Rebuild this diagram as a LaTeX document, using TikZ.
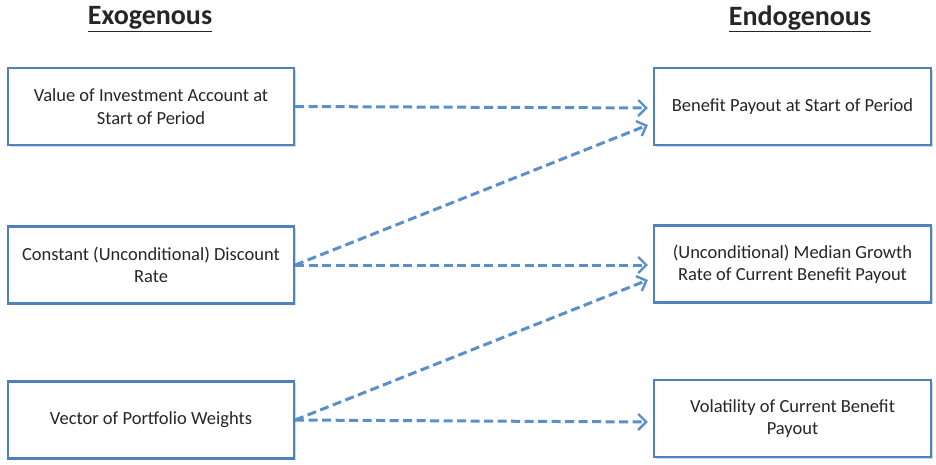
\documentclass[tikz,border=0pt]{standalone}
\usepackage{fontspec}
\setmainfont{Carlito}
\usetikzlibrary{arrows.meta,shadows}
\definecolor{boxblue}{HTML}{4F81BD}
\definecolor{linkblue}{HTML}{5B8FC9}
\begin{document}
\begin{tikzpicture}[x=1pt,y=-1pt,
  varbox/.style={draw=boxblue,line width=2.2pt,fill=white,minimum width=286pt,minimum height=77pt,
    align=center,font=\fontsize{18.5}{22.5}\selectfont,text=black!85,
    drop shadow={shadow xshift=1.5pt,shadow yshift=-1.5pt,opacity=0.25,fill=black!60}},
  headline/.style={font=\fontsize{28}{32}\selectfont\bfseries,text=black!85},
  link/.style={draw=linkblue,line width=3pt,dash pattern=on 9pt off 4.5pt,
    -{Straight Barb[length=8pt,width=16pt,line width=2.4pt]}}]
\useasboundingbox (0,0) rectangle (936,464);

\node[headline] (exo) at (150,19) {\underline{Exogenous}};
\node[headline] (endo) at (800,19) {\underline{Endogenous}};

\node[varbox] (a1) at (151,106.5) {Value of Investment Account at\\Start of Period};
\node[varbox] (a2) at (151,265) {Constant (Unconditional) Discount\\Rate};
\node[varbox] (a3) at (151,420) {Vector of Portfolio Weights};

\node[varbox,minimum width=277pt] (b1) at (792.5,106.5) {Benefit Payout at Start of Period};
\node[varbox,minimum width=277pt] (b2) at (792.5,264) {(Unconditional) Median Growth\\Rate of Current Benefit Payout};
\node[varbox,minimum width=277pt] (b3) at (792.5,418.5) {Volatility of Current Benefit\\Payout};

% arrow targets on the left edges of the endogenous boxes
\coordinate (t1a) at ([xshift=-5pt,yshift=-1.5pt]b1.west);
\coordinate (t1b) at ([xshift=-5pt,yshift=-18.5pt]b1.west);
\coordinate (t2a) at ([xshift=-5pt,yshift=-1pt]b2.west);
\coordinate (t2b) at ([xshift=-5pt,yshift=-16pt]b2.west);
\coordinate (t3a) at ([xshift=-5pt,yshift=-3.5pt]b3.west);

\draw[link] (a1.east) -- (t1a);
\draw[link] (a2.east) -- (t1b);
\draw[link] (a2.east) -- (t2a);
\draw[link] (a3.east) -- (t2b);
\draw[link] (a3.east) -- (t3a);
\end{tikzpicture}
\end{document}
